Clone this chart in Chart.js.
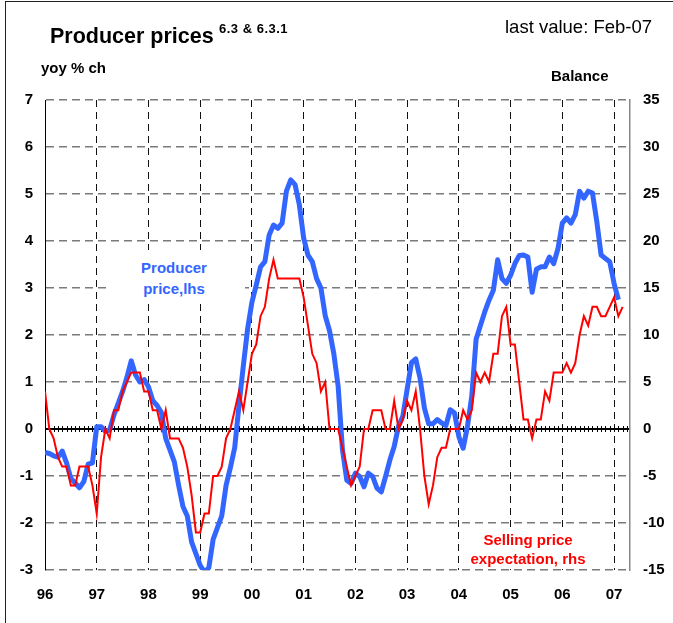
<!DOCTYPE html>
<html>
<head>
<meta charset="utf-8">
<script src="https://cdn.jsdelivr.net/npm/chart.js@4.4.1/dist/chart.umd.min.js"></script>
<style>
  body { margin: 0; background: #fff; }
  #wrap { position: relative; width: 673px; height: 623px; overflow: hidden; font-family: Arial, "Liberation Sans", sans-serif; }
  #frame { position: absolute; left: 5px; top: 1px; width: 700px; height: 700px; border-left: 1px solid #222; border-top: 1px solid #222; }
  canvas { position: absolute; left: 0; top: 0; }
  .txt { position: absolute; white-space: nowrap; color: #000; }
  .box { position: absolute; background: #fff; }
</style>
</head>
<body>
<div id="wrap">
  <div id="frame"></div>
  <canvas id="chart" width="673" height="623"></canvas>
  <div class="txt" style="left:50px;top:26px;font-size:21.5px;line-height:21.5px;font-weight:bold;">Producer prices</div>
  <div class="txt" style="left:219px;top:22px;font-size:13px;line-height:13px;font-weight:bold;letter-spacing:0.5px;">6.3 &amp; 6.3.1</div>
  <div class="txt" style="left:505px;top:17.6px;font-size:18.5px;line-height:18.5px;">last value: Feb-07</div>
  <div class="txt" style="left:41px;top:60px;font-size:15px;line-height:15px;font-weight:bold;">yoy % ch</div>
  <div class="txt" style="left:551px;top:68.3px;font-size:15px;line-height:15px;font-weight:bold;">Balance</div>
  <div class="box" style="left:107px;top:250px;width:138px;height:53px;"></div>
  <div class="txt" style="left:114px;top:256.7px;width:120px;text-align:center;font-size:15px;line-height:21.6px;font-weight:bold;color:#3366ff;">Producer<br>price,lhs</div>
  <div class="box" style="left:466px;top:527px;width:126px;height:42px;"></div>
  <div class="txt" style="left:448px;top:530.2px;width:160px;text-align:center;font-size:15px;line-height:19.3px;font-weight:bold;color:#ff0000;">Selling price<br>expectation, rhs</div>
</div>
<script>
// x tick labels, one per January from Jan 96
const years = ['96', '97', '98', '99', '00', '01', '02', '03', '04', '05', '06', '07'];

// Producer price, yoy % ch (lhs), monthly from Jan 96
const producerPrice = [
  -0.5, -0.52, -0.57, -0.6, -0.47, -0.72, -1.05, -1.15, -1.25, -1.12, -0.75, -0.72,
  0.05, 0.05, -0.05, -0.02, 0.3, 0.55, 0.8, 1.1, 1.45, 1.15, 1.0, 1.05,
  0.9, 0.6, 0.5, 0.35, -0.2, -0.45, -0.7, -1.2, -1.65, -1.85, -2.4, -2.65,
  -2.9, -3.05, -2.95, -2.35, -2.1, -1.85, -1.2, -0.82, -0.4, 0.5, 1.34, 2.13,
  2.7, 3.06, 3.45, 3.56, 4.13, 4.34, 4.27, 4.38, 5.06, 5.3, 5.2, 4.77,
  4.06, 3.7, 3.56, 3.2, 3.0, 2.41, 2.09, 1.6, 0.91, -0.44, -1.09, -1.16,
  -0.94, -1.01, -1.23, -0.94, -1.01, -1.26, -1.34, -1.01, -0.66, -0.37, 0.06, 0.27,
  0.84, 1.41, 1.49, 1.08, 0.45, 0.11, 0.11, 0.2, 0.13, 0.07, 0.41, 0.34,
  -0.16, -0.41, 0.06, 0.7, 1.91, 2.2, 2.49, 2.74, 2.95, 3.6, 3.2, 3.1,
  3.27, 3.52, 3.69, 3.7, 3.66, 2.91, 3.4, 3.45, 3.45, 3.66, 3.52, 3.84,
  4.38, 4.49, 4.38, 4.56, 5.06, 4.91, 5.06, 5.02, 4.41, 3.7, 3.63, 3.56,
  3.1, 2.75
];

// Selling price expectation, balance (rhs), monthly from Jan 96
const sellingPrice = [
  4, 0, -1, -3, -4, -4, -6, -6, -4, -4, -4, -6,
  -9, -3, 0, -1, 2, 2, 4, 5, 6, 6, 6, 4,
  4, 2, 2, 0, 2, -1, -1, -1, -2, -4, -7, -11,
  -11, -9, -9, -5, -5, -4, -1, 0, 2, 4, 2, 5,
  8, 9, 12, 13, 16, 18, 16, 16, 16, 16, 16, 16,
  14, 11, 8, 7, 4, 5, 0, 0, 0, -2, -4, -6,
  -5, -4, 0, 0, 2, 2, 2, 0, 0, 3, 0, 1,
  3, 2, 4, 0, -5, -8, -6, -3, -2, -2, 0, 0,
  0, 2, 1, 2, 6, 5, 6, 5, 8, 8, 12, 13,
  9, 9, 5, 1, 1, -1, 1, 1, 4, 3, 6, 6,
  6, 7, 6, 7, 10, 12, 11, 13, 13, 12, 12, 13,
  14, 12, 13
];

const FONT = 'Arial, "Liberation Sans", sans-serif';
const tickFont = { family: FONT, size: 15, weight: 'bold' };

// small monthly ticks on the zero line
const zeroTicks = {
  id: 'zeroTicks',
  beforeDatasetsDraw(chart) {
    const { ctx, scales: { x, y } } = chart;
    const y0 = Math.round(y.getPixelForValue(0));
    ctx.save();
    ctx.strokeStyle = '#000';
    ctx.lineWidth = 1;
    ctx.beginPath();
    for (let m = 1; m < x.max; m++) {
      const px = Math.round(x.getPixelForValue(m)) + 0.5;
      ctx.moveTo(px, y0 - 3);
      ctx.lineTo(px, y0 + 3);
    }
    ctx.stroke();
    ctx.restore();
  }
};

new Chart(document.getElementById('chart'), {
  type: 'line',
  data: {
    datasets: [
      {
        label: 'Selling price expectation, rhs',
        data: sellingPrice.map((v, i) => ({ x: i, y: v })),
        yAxisID: 'y1',
        borderColor: '#ff0000',
        borderWidth: 2,
        pointRadius: 0,
        tension: 0,
        order: 0
      },
      {
        label: 'Producer price, lhs',
        data: producerPrice.map((v, i) => ({ x: i, y: v })),
        yAxisID: 'y',
        borderColor: '#3366ff',
        borderWidth: 5,
        borderJoinStyle: 'round',
        pointRadius: 0,
        tension: 0,
        order: 1
      }
    ]
  },
  options: {
    responsive: false,
    animation: false,
    devicePixelRatio: 1,
    layout: { padding: { top: 100, left: 0, right: 0, bottom: 0 } },
    plugins: { legend: { display: false }, tooltip: { enabled: false } },
    scales: {
      x: {
        type: 'linear',
        min: 0,
        max: 135.7,
        afterFit: s => { s.height = 53; },
        ticks: {
          stepSize: 12,
          includeBounds: false,
          autoSkip: false,
          maxRotation: 0,
          padding: 16,
          color: '#000',
          font: tickFont,
          callback: v => (v % 12 === 0 ? years[v / 12] : '')
        },
        grid: { color: '#111', lineWidth: 1, drawTicks: false },
        border: { display: false, dash: [7, 5] }
      },
      y: {
        position: 'left',
        min: -3,
        max: 7,
        afterFit: s => { s.width = 45; },
        ticks: { stepSize: 1, padding: 12, color: '#000', font: tickFont },
        grid: {
          drawTicks: false,
          color: c => (c.tick && c.tick.value === 0 ? '#000' : '#7a7a7a'),
          lineWidth: c => (c.tick && c.tick.value === 0 ? 2 : 1.5)
        },
        border: {
          display: true,
          color: '#000',
          width: 1,
          dash: c => (c.tick && c.tick.value === 0 ? [] : [8, 5])
        }
      },
      y1: {
        position: 'right',
        min: -15,
        max: 35,
        afterFit: s => { s.width = 43; },
        ticks: { stepSize: 5, padding: 13, color: '#000', font: tickFont },
        grid: { display: false, drawTicks: false },
        border: { display: true, color: '#888', width: 1.5 }
      }
    }
  },
  plugins: [zeroTicks]
});
</script>
</body>
</html>
